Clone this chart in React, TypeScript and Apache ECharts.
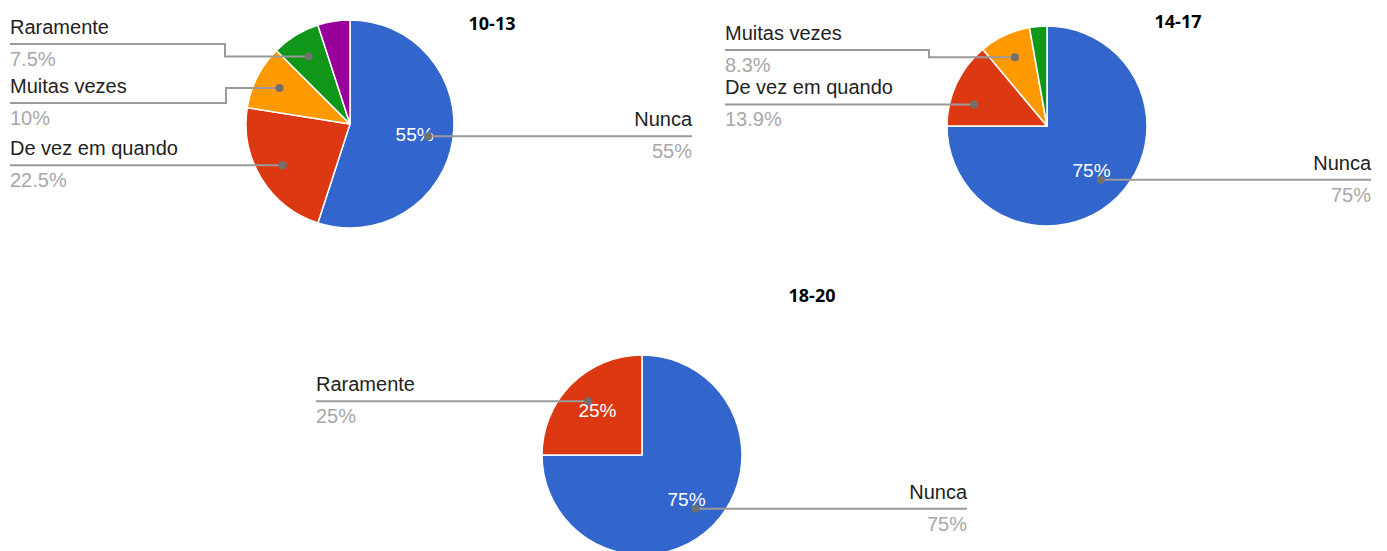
import React, { useEffect, useRef } from 'react';
import * as echarts from 'echarts';

const COLORS = ['#3366cc', '#dc3912', '#ff9900', '#109618', '#990099'];

const titles = ['10-13', '14-17', '18-20'];
const categories1 = ['Nunca', 'De vez em quando', 'Muitas vezes', 'Raramente', 'Sempre'];
const values1 = [55, 22.5, 10, 7.5, 5];
const categories2 = ['Nunca', 'De vez em quando', 'Muitas vezes', 'Raramente'];
const values2 = [75, 13.9, 8.3, 2.8];
const categories3 = ['Nunca', 'Raramente'];
const values3 = [75, 25];

type LabelCfg = { side: 'left' | 'right'; edge: number; y?: number; elbow?: number; shift?: number } | null;
type PieCfg = {
  cats: string[]; vals: number[]; title: string;
  cx: number; cy: number; r: number; tx: number; ty: number; labels: LabelCfg[];
};

const PIES: PieCfg[] = [
  {
    cats: categories1, vals: values1, title: titles[0], cx: 350, cy: 124, r: 104, tx: 492, ty: 23,
    labels: [
      { side: 'right', edge: 692 },
      { side: 'left', edge: 10 },
      { side: 'left', edge: 10, y: 103, elbow: 226 },
      { side: 'left', edge: 10, y: 44, elbow: 225 },
      null,
    ],
  },
  {
    cats: categories2, vals: values2, title: titles[1], cx: 1047, cy: 126, r: 100, tx: 1178, ty: 21,
    labels: [
      { side: 'right', edge: 1371 },
      { side: 'left', edge: 725, shift: -8.5 },
      { side: 'left', edge: 725, y: 50, elbow: 929 },
      null,
    ],
  },
  {
    cats: categories3, vals: values3, title: titles[2], cx: 642, cy: 455, r: 100, tx: 812, ty: 295,
    labels: [
      { side: 'right', edge: 967 },
      { side: 'left', edge: 316 },
    ],
  },
];

const DOT_K = 0.76;
const INNER_K = 0.6;
const FONT = 'Liberation Sans, Arial, sans-serif';

function midAngle(vals: number[], i: number) {
  const total = vals.reduce((a, b) => a + b, 0);
  let cum = 0;
  for (let j = 0; j < i; j++) cum += vals[j];
  return ((cum + vals[i] / 2) / total) * 360;
}

function anchor(p: PieCfg, i: number): [number, number] {
  const cfg = p.labels[i];
  const a = ((midAngle(p.vals, i) + (cfg && cfg.shift ? cfg.shift : 0)) * Math.PI) / 180;
  const d = p.r * DOT_K;
  return [p.cx + d * Math.sin(a), p.cy - d * Math.cos(a)];
}

function buildSeries(p: PieCfg) {
  const transparent = { color: 'rgba(0,0,0,0)', borderWidth: 0 };
  const base = {
    type: 'pie',
    center: [p.cx, p.cy],
    startAngle: 90,
    clockwise: true,
    avoidLabelOverlap: false,
    silent: true,
  };
  const slices = {
    ...base,
    z: 1,
    radius: p.r,
    itemStyle: { borderColor: '#ffffff', borderWidth: 1.5 },
    label: { show: false },
    labelLine: { show: false },
    data: p.cats.map((name, i) => ({ name, value: p.vals[i], itemStyle: { color: COLORS[i] } })),
  };
  const outer = {
    ...base,
    z: 4,
    radius: p.r,
    itemStyle: transparent,
    label: {
      show: true,
      position: 'outside',
      formatter: (pp: any) => `{n|${pp.name}}\n{p|${pp.value}%}`,
    },
    labelLine: { show: true, smooth: false, lineStyle: { color: '#9a9a9a', width: 2 } },
    labelLayout: (params: any) => {
      const i = params.dataIndex;
      const cfg = p.labels[i];
      if (!cfg) return {};
      const [ax, ay] = anchor(p, i);
      const ly = cfg.y != null ? cfg.y : ay;
      const pts =
        cfg.elbow != null
          ? [[cfg.edge, ly], [cfg.elbow, ly], [cfg.elbow, ay], [ax, ay]]
          : [[cfg.edge, ly], [ax, ly]];
      return { x: cfg.edge, y: ly - 1, align: cfg.side, verticalAlign: 'middle', labelLinePoints: pts };
    },
    data: p.cats.map((name, i) => {
      const cfg = p.labels[i];
      return {
        name,
        value: p.vals[i],
        label: cfg
          ? {
              show: true,
              align: cfg.side,
              rich: {
                n: { fontSize: 20, fontFamily: FONT, color: '#222222', lineHeight: 32, align: cfg.side },
                p: { fontSize: 20, fontFamily: FONT, color: '#a8a8a8', lineHeight: 32, align: cfg.side },
              },
            }
          : { show: false },
        labelLine: cfg ? { show: true } : { show: false },
      };
    }),
  };
  const inner = {
    ...base,
    z: 3,
    radius: p.r * INNER_K * 2,
    itemStyle: transparent,
    label: {
      show: true,
      position: 'inside',
      formatter: (pp: any) => (pp.value >= 25 ? `${pp.value}%` : ''),
      color: '#ffffff',
      fontSize: 19,
      fontFamily: FONT,
    },
    labelLine: { show: false },
    data: p.cats.map((name, i) => ({ name, value: p.vals[i] })),
  };
  const dots = {
    ...base,
    z: 5,
    radius: p.r,
    itemStyle: transparent,
    label: {
      show: true,
      position: 'inside',
      formatter: '{d| }',
      rich: { d: { width: 8, height: 8, borderRadius: 4, backgroundColor: '#707070', fontSize: 1, lineHeight: 8 } },
    },
    labelLine: { show: false },
    labelLayout: (params: any) => {
      const [ax, ay] = anchor(p, params.dataIndex);
      return { x: ax, y: ay, align: 'center', verticalAlign: 'middle' };
    },
    data: p.cats.map((name, i) => ({
      name,
      value: p.vals[i],
      label: { show: !!p.labels[i] },
    })),
  };
  return [slices, inner, outer, dots];
}

export default function App() {
  const ref = useRef<HTMLDivElement>(null);
  useEffect(() => {
    if (!ref.current) return;
    const chart = echarts.init(ref.current, null, { renderer: 'svg' });
    const series: any[] = [];
    PIES.forEach((p) => series.push(...buildSeries(p)));
    chart.setOption({
      animation: false,
      backgroundColor: '#ffffff',
      textStyle: { fontFamily: FONT },
      graphic: PIES.map((p) => ({
        type: 'text',
        x: p.tx,
        y: p.ty,
        style: {
          text: p.title,
          fill: '#000000',
          fontSize: 18,
          fontWeight: 'bold',
          fontFamily: 'Open Sans',
          align: 'center',
          verticalAlign: 'middle',
        },
      })),
      series,
    });
    return () => chart.dispose();
  }, []);
  return (
    <div
      ref={ref}
      style={{ position: 'absolute', left: 0, top: 0, width: 1387, height: 551 }}
    />
  );
}
